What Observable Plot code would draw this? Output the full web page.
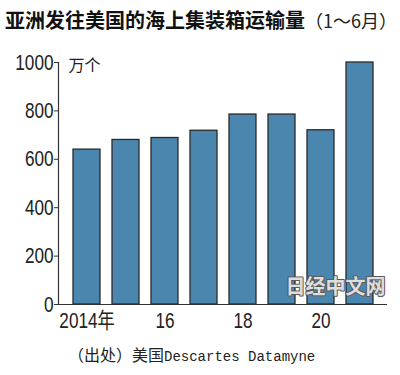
<!DOCTYPE html>
<html>
<head>
<meta charset="utf-8">
<script src="https://cdn.jsdelivr.net/npm/d3@7"></script>
<script src="https://cdn.jsdelivr.net/npm/@observablehq/plot@0.6"></script>
<style>
  html, body { margin: 0; padding: 0; background: #fff; }
  #wrap { width: 400px; height: 375px; position: relative; overflow: hidden; }
  #title { height: 40px; box-sizing: border-box; padding: 7px 0 0 5px; font-family: "Noto Sans CJK SC", sans-serif; color: #111; white-space: nowrap; line-height: 26px; }
  #title .main { font-size: 20px; font-weight: bold; }
  #title .sub { font-size: 18px; font-weight: normal; color: #222; }
  #caption { padding-left: 68px; height: 28px; line-height: 28px; white-space: nowrap; color: #222; }
  #caption .cjk { font-family: "Noto Sans CJK SC", sans-serif; font-size: 16px; }
  #caption .lat { font-family: "Liberation Mono", "DejaVu Sans Mono", monospace; font-size: 14px; }
  svg { display: block; }
</style>
</head>
<body>
<div id="wrap">
  <div id="title"><span class="main">亚洲发往美国的海上集装箱运输量</span><span class="sub">（1～6月）</span></div>
  <div id="chart"></div>
  <div id="caption"><span class="cjk">（出处）美国</span><span class="lat">Descartes Datamyne</span></div>
</div>
<script>
const years = ["2014", "2015", "2016", "2017", "2018", "2019", "2020", "2021"];
const volumes = [640, 680, 688, 718, 785, 785, 720, 1000];
const yTicks = [0, 200, 400, 600, 800, 1000];
const xTickYears = ["2014", "2016", "2018", "2020"];
const xTickLabels = ["2014年", "16", "18", "20"];
const unitLabel = "万个";
const watermark = "日经中文网";

const data = years.map((y, i) => ({year: y, value: volumes[i]}));
const xLabelMap = new Map(xTickYears.map((y, i) => [y, xTickLabels[i]]));

const chart = Plot.plot({
  width: 400,
  height: 300,
  marginTop: 22,
  marginBottom: 36,
  marginLeft: 58,
  marginRight: 13,
  style: { fontFamily: "'Liberation Sans', 'Noto Sans CJK SC', sans-serif", color: "#222", background: "#fff" },
  x: { type: "band", domain: years, paddingInner: 0.32, paddingOuter: 0.31 },
  y: { domain: [0, 1000] },
  marks: [
    Plot.barY(data, { x: "year", y: "value", fill: "#4a86ad", stroke: "#2a2a2a", strokeWidth: 1.3 }),
    Plot.frame({ anchor: "left", stroke: "#333", strokeWidth: 1.2 }),
    Plot.ruleY([0], { stroke: "#333", strokeWidth: 1.2 }),
    Plot.axisY({ ticks: yTicks, tickSize: 4, tickPadding: 1, fontSize: 22, label: null, tickFormat: d => String(d), stroke: "#333" }),
    Plot.axisX({ ticks: xTickYears, tickSize: 0, tickPadding: 8, fontSize: 22, label: null, tickFormat: d => xLabelMap.get(d) }),
    Plot.text([unitLabel], { frameAnchor: "top-left", dx: 10, dy: 3, textAnchor: "start", lineAnchor: "middle", fontSize: 16, fontFamily: "Noto Sans CJK SC", fill: "#222" }),
    Plot.text([watermark], { frameAnchor: "bottom-right", dx: -2, dy: -11, textAnchor: "end", lineAnchor: "bottom", fontSize: 20, fontWeight: "bold", fontFamily: "Noto Sans CJK SC", fill: "#dedede", stroke: "#5a5a5a", strokeWidth: 2, paintOrder: "stroke" })
  ]
});
document.getElementById("chart").appendChild(chart);

// Condense the axis tick labels horizontally (the reference uses a narrow typeface)
chart.querySelectorAll('g[aria-label="y-axis tick label"] text, g[aria-label="x-axis tick label"] text').forEach(t => {
  const w = t.getComputedTextLength();
  t.setAttribute("textLength", (w * 0.78).toFixed(1));
  t.setAttribute("lengthAdjust", "spacingAndGlyphs");
});
</script>
</body>
</html>
